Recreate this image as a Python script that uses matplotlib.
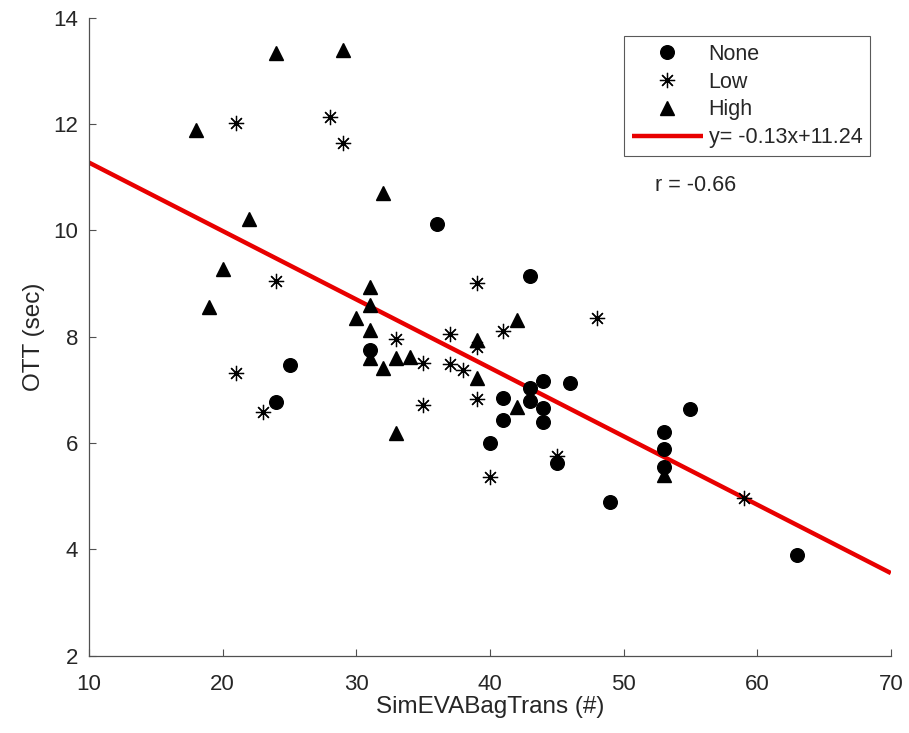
import matplotlib
matplotlib.use("Agg")
import matplotlib.pyplot as plt
import numpy as np

plt.rcParams['font.family'] = ['Liberation Sans', 'DejaVu Sans']

none_x = [36, 43, 24, 25, 31, 41, 41, 40, 43, 43, 44, 44, 44, 46, 45, 49, 55, 53, 53, 53, 63]
none_y = [10.12, 9.14, 6.77, 7.46, 7.75, 6.84, 6.43, 6.0, 7.04, 6.79, 7.16, 6.66, 6.40, 7.12,
          5.62, 4.89, 6.63, 6.21, 5.88, 5.55, 3.9]

low_x = [21, 28, 29, 24, 21, 23, 33, 35, 35, 37, 37, 38, 39, 39, 39, 41, 48, 45, 40, 59]
low_y = [12.02, 12.13, 11.64, 9.05, 7.31, 6.59, 7.95, 7.51, 6.71, 8.05, 7.48, 7.37, 9.0,
         7.81, 6.83, 8.11, 8.35, 5.75, 5.36, 4.96]

high_x = [24, 29, 18, 32, 22, 20, 19, 31, 31, 30, 31, 31, 32, 33, 34, 33, 39, 39, 42, 42, 53]
high_y = [13.34, 13.4, 11.89, 10.7, 10.21, 9.27, 8.56, 8.94, 8.6, 8.35, 8.12, 7.6, 7.41, 7.6,
          7.62, 6.19, 7.93, 7.22, 8.31, 6.68, 5.40]

fit_slope = -0.1287
fit_intercept = 12.56
fit_label = 'y= -0.13x+11.24'
r_label = 'r = -0.66'

x_ticks = [10, 20, 30, 40, 50, 60, 70]
y_ticks = [2, 4, 6, 8, 10, 12, 14]

txt = '#262626'
fig = plt.figure(figsize=(9.09, 7.33), dpi=100)
ax = fig.add_axes([0.098, 0.1057, 0.882, 0.8702])

ax.plot(none_x, none_y, linestyle='none', marker='o', markersize=9.8, color='black', label='None', zorder=3)
ax.plot(low_x, low_y, linestyle='none', marker=(8, 2, 0), markersize=11, markeredgewidth=0.9,
        color='black', label='Low', zorder=3)
ax.plot(high_x, high_y, linestyle='none', marker='^', markersize=10.5, color='black', label='High', zorder=3)

xl = np.array([10, 70])
ax.plot(xl, fit_slope * xl + fit_intercept, color='#e80000', linewidth=3.2, label=fit_label, zorder=2,
        solid_capstyle='butt')

ax.set_xlim(10, 70)
ax.set_ylim(2, 14)
ax.set_xticks(x_ticks)
ax.set_yticks(y_ticks)
ax.tick_params(direction='in', length=5, width=0.8, colors='#505050', labelcolor=txt, labelsize=16)
ax.tick_params(axis='x', pad=13)
ax.tick_params(axis='y', pad=8)
for s in ['top', 'right']:
    ax.spines[s].set_visible(False)
for s in ['left', 'bottom']:
    ax.spines[s].set_color('#505050')
    ax.spines[s].set_linewidth(0.9)

ax.set_xlabel('SimEVABagTrans (#)', fontsize=17.5, color=txt, labelpad=1)
ax.set_ylabel('OTT (sec)', fontsize=17.5, color=txt, labelpad=6)

leg = ax.legend(loc='upper right', bbox_to_anchor=(0.974, 0.9705), borderaxespad=0,
                fontsize=15.5, frameon=True, fancybox=False, edgecolor='#303030',
                handlelength=3.3, handletextpad=0.28, labelspacing=0.31, borderpad=0.35)
leg.get_frame().set_linewidth(0.8)
for t in leg.get_texts():
    t.set_color(txt)

ax.text(0.706, 0.737, r_label, transform=ax.transAxes, fontsize=15.5, color=txt, va='center', ha='left')

fig.savefig('out.png', dpi=100)
